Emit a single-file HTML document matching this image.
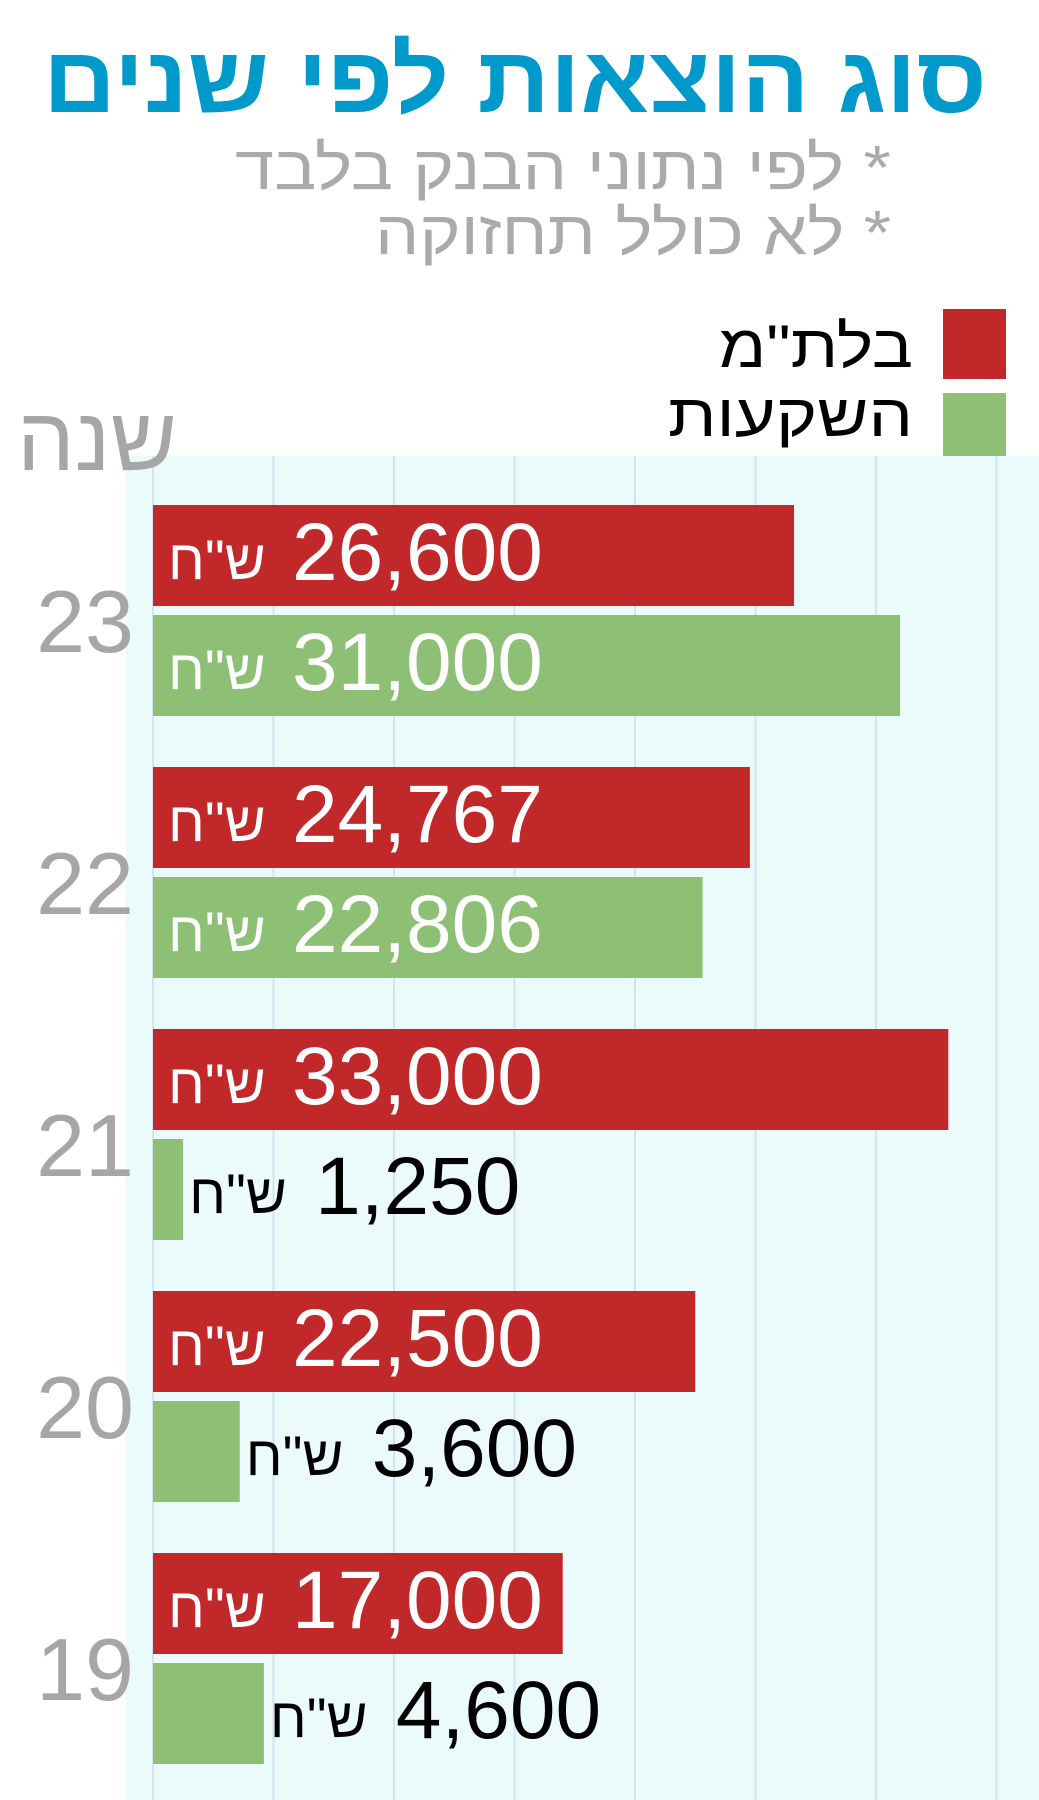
<!DOCTYPE html>
<html lang="he"><head><meta charset="utf-8"><title>סוג הוצאות לפי שנים</title>
<style>
html,body{margin:0;padding:0;background:#fff;}
svg{display:block;font-family:"Liberation Sans","DejaVu Sans",sans-serif;}
</style></head>
<body>
<svg id="chart" width="1039" height="1800" viewBox="0 0 1039 1800" xmlns="http://www.w3.org/2000/svg">
  <rect x="0" y="0" width="1039" height="1800" fill="#ffffff"/>
  <rect x="126" y="456" width="913" height="1344" fill="#ebfafa"/>
  <text x="43" y="112" font-size="94" font-weight="bold" fill="#0099cc" textLength="944" lengthAdjust="spacingAndGlyphs">סוג הוצאות לפי שנים</text>
  <text x="235" y="189" font-size="62" fill="#aaaaaa" textLength="656" lengthAdjust="spacingAndGlyphs">לפי נתוני הבנק בלבד *</text>
  <text x="375" y="254" font-size="62" fill="#aaaaaa" textLength="516" lengthAdjust="spacingAndGlyphs">לא כולל תחזוקה *</text>
  <rect x="943" y="309" width="63" height="70" fill="#c0282a"/>
  <text x="719" y="367" font-size="60" fill="#000" textLength="194" lengthAdjust="spacingAndGlyphs">בלת"מ</text>
  <rect x="943" y="393" width="63" height="63" fill="#8dc075"/>
  <text x="668" y="436" font-size="60" fill="#000" textLength="245" lengthAdjust="spacingAndGlyphs">השקעות</text>
  <g id="grid"></g>
  <text x="17" y="470" font-size="90" fill="#a6a6a6" textLength="160" lengthAdjust="spacingAndGlyphs">שנה</text>
  <g id="bars"></g>
</svg>
<script>
const years = ['23','22','21','20','19'];
const balatamValues = [26600, 24767, 33000, 22500, 17000];
const investValues = [31000, 22806, 1250, 3600, 4600];
const gridTicks = [0, 5000, 10000, 15000, 20000, 25000, 30000, 35000];

const NS = 'http://www.w3.org/2000/svg';
const x0 = 153, pxPer = 120.5 / 5000;
function xScale(v){ return x0 + v * pxPer; }
function groupTop(i){ return 505 + i * 262; }
const barH = 101, greenOff = 110;

const grid = document.getElementById('grid');
gridTicks.forEach(function(t){
  const l = document.createElementNS(NS,'line');
  
  
  l.setAttribute('x1', xScale(t)); l.setAttribute('x2', xScale(t));
  l.setAttribute('y1', 456); l.setAttribute('y2', 1800);
  l.setAttribute('stroke','#d3e4ef'); l.setAttribute('stroke-width','2');
  grid.appendChild(l);
});

const bars = document.getElementById('bars');
function fmt(v){ return v.toLocaleString('en-US'); }
function addText(txt, x, y, size, color, name){
  const t = document.createElementNS(NS,'text');
  
  
  t.setAttribute('x', x); t.setAttribute('y', y);
  t.setAttribute('font-size', size); t.setAttribute('fill', color);
  t.textContent = txt;
  bars.appendChild(t);
  return t;
}
function addBar(v, top, color, name){
  const r = document.createElementNS(NS,'rect');
  
  
  r.setAttribute('x', x0); r.setAttribute('y', top);
  r.setAttribute('width', xScale(v) - x0); r.setAttribute('height', barH);
  r.setAttribute('fill', color);
  bars.appendChild(r);
  const w = xScale(v) - x0;
  if (w > 300) {
    addText('ש"ח', 168, top + 74, 56, '#ffffff', name + '-currency');
    addText(fmt(v), 292, top + 75, 82, '#ffffff', name + '-value');
  } else {
    const ex = xScale(v) + 6;
    addText('ש"ח', ex, top + 74, 56, '#000000', name + '-currency');
    addText(fmt(v), ex + 126, top + 75, 82, '#000000', name + '-value');
  }
}
years.forEach(function(y, i){
  const top = groupTop(i);
  addBar(balatamValues[i], top, '#c0282a', 'bar-balatam-' + y);
  addBar(investValues[i], top + greenOff, '#8dc075', 'bar-invest-' + y);
  const t = addText(y, 134, top + 147, 88, '#a6a6a6', 'year-label-' + y);
  t.setAttribute('text-anchor','end');
});
</script>
</body></html>
